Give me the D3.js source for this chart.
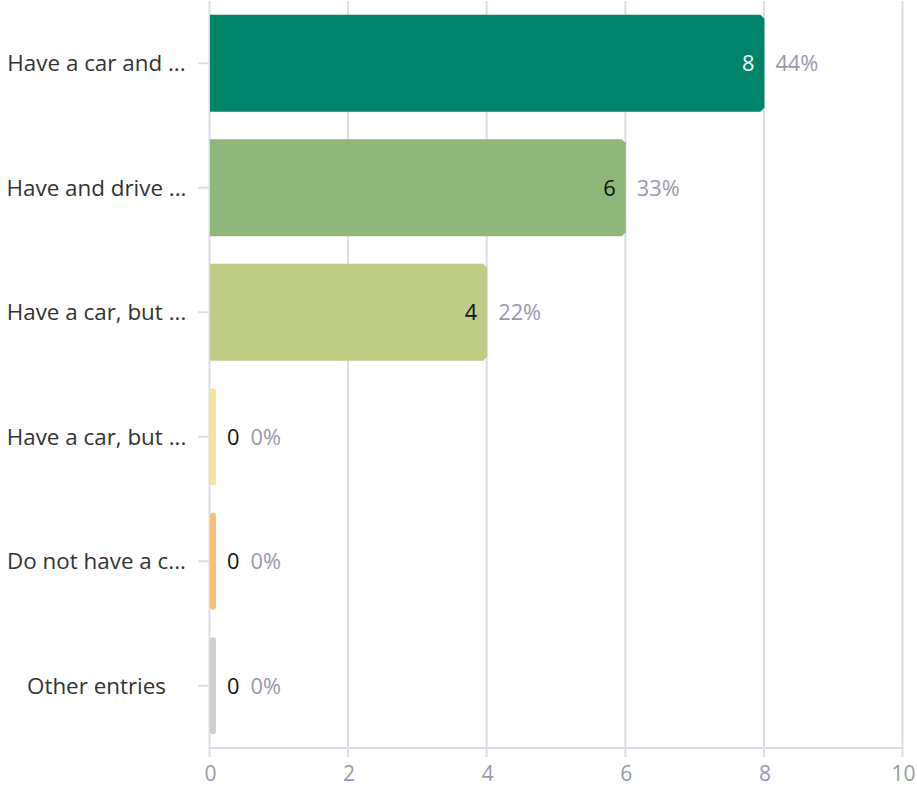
<!DOCTYPE html>
<html><head><meta charset="utf-8">
<script src="https://cdn.jsdelivr.net/npm/d3@7"></script>
<style>
html,body{margin:0;padding:0;background:#fff;}
svg{display:block;font-family:"Open Sans","Noto Sans",sans-serif;}
</style></head>
<body><svg id="chart" width="917" height="786"></svg>
<script>
const categories = ["Have a car and ...","Have and drive ...","Have a car, but ...","Have a car, but ...","Do not have a c...","Other entries"];
const counts = [8,6,4,0,0,0];
const percents = ["44%","33%","22%","0%","0%","0%"];
const colors = ["#00856a","#8db87a","#bfcc85","#f6e39e","#f2c076","#cfcfcf"];
const countColors = ["#ffffff","#111111","#111111","#111111","#111111","#111111"];
const xTicks = [0,2,4,6,8,10];

(function(){
const svg = d3.select("#chart");
const pLeft = 210, pRight = 903, pTop = 1, pBottom = 748;
const x = d3.scaleLinear().domain([0,10]).range([pLeft,pRight]);
const y = d3.scaleBand().domain(d3.range(categories.length)).range([pTop,pBottom]).paddingInner(0.22).paddingOuter(0.11);

const grid = "#dcdce8";
const valFont = 21.8;
svg.append("g").selectAll("line").data(xTicks).join("line")
  .attr("x1",d=>x(d)-0.5).attr("x2",d=>x(d)-0.5).attr("y1",pTop).attr("y2",pBottom+9)
  .attr("stroke",grid).attr("stroke-width",2);
svg.append("line").attr("x1",pLeft-1).attr("x2",pRight).attr("y1",pBottom).attr("y2",pBottom)
  .attr("stroke",grid).attr("stroke-width",2);
svg.append("g").selectAll("text").data(xTicks).join("text")
  .attr("x",d=>x(d)+0.5).attr("y",781).attr("text-anchor","middle")
  .attr("fill","#9898ae").attr("font-size",21).text(d=>d);

svg.append("g").selectAll("line").data(d3.range(categories.length)).join("line")
  .attr("x1",198).attr("x2",pLeft-1).attr("y1",i=>y(i)+y.bandwidth()/2).attr("y2",i=>y(i)+y.bandwidth()/2)
  .attr("stroke",grid).attr("stroke-width",2);
svg.append("g").selectAll("text").data(categories).join("text")
  .attr("x",96.5).attr("y",(d,i)=>y(i)+y.bandwidth()/2).attr("dy","0.36em")
  .attr("text-anchor","middle").attr("fill","#333").attr("font-size",22.4).text(d=>d);

const minW = 6, c = 4;
function barPath(i){
  const x0 = x(0), y0 = y(i), h = y.bandwidth();
  const w = Math.max(x(counts[i])-x0, minW);
  if (counts[i] === 0){
    const r = 3;
    return `M${x0},${y0+r} Q${x0},${y0} ${x0+r},${y0} L${x0+w-r},${y0} Q${x0+w},${y0} ${x0+w},${y0+r} L${x0+w},${y0+h-r} Q${x0+w},${y0+h} ${x0+w-r},${y0+h} L${x0+r},${y0+h} Q${x0},${y0+h} ${x0},${y0+h-r} Z`;
  }
  return `M${x0},${y0} L${x0+w-c},${y0} L${x0+w},${y0+c} L${x0+w},${y0+h-c} L${x0+w-c},${y0+h} L${x0},${y0+h} Z`;
}
svg.append("g").selectAll("path").data(counts).join("path")
  .attr("d",(d,i)=>barPath(i)).attr("fill",(d,i)=>colors[i]);

const lab = svg.append("g");
counts.forEach((v,i)=>{
  const cy = y(i)+y.bandwidth()/2;
  const end = x(0)+Math.max(x(v)-x(0),minW);
  if (v>0){
    lab.append("text").attr("x",end-10).attr("y",cy).attr("dy","0.36em").attr("text-anchor","end")
      .attr("fill",countColors[i]).attr("font-size",valFont).text(v);
    lab.append("text").attr("x",end+11).attr("y",cy).attr("dy","0.36em")
      .attr("fill","#9898ae").attr("font-size",valFont).text(percents[i]);
  } else {
    const t = lab.append("text").attr("x",end+11).attr("y",cy).attr("dy","0.36em")
      .attr("fill",countColors[i]).attr("font-size",valFont).text(v);
    const w = t.node().getComputedTextLength();
    lab.append("text").attr("x",end+11+w+11).attr("y",cy).attr("dy","0.36em")
      .attr("fill","#9898ae").attr("font-size",valFont).text(percents[i]);
  }
});
})();
</script></body></html>
